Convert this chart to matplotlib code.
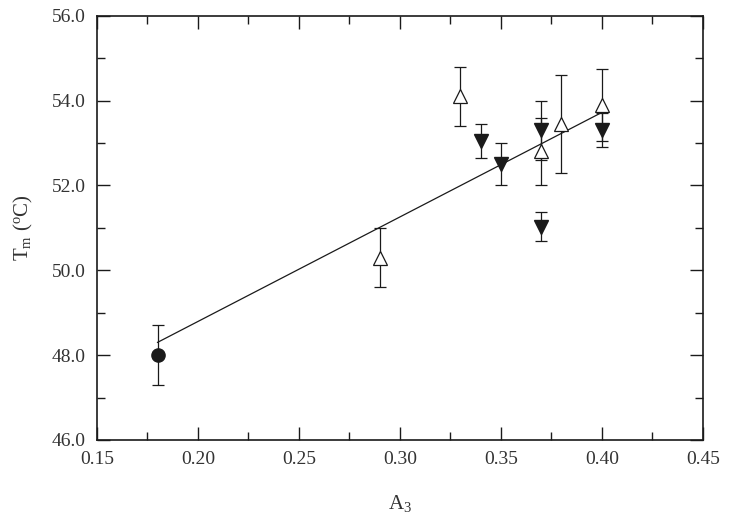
import numpy as np
import matplotlib
matplotlib.use("Agg")
import matplotlib.pyplot as plt
from matplotlib.ticker import MultipleLocator, FormatStrFormatter

plt.rcParams['font.family'] = ['Liberation Serif', 'DejaVu Serif']
plt.rcParams['mathtext.fontset'] = 'custom'
plt.rcParams['mathtext.rm'] = 'Liberation Serif'
plt.rcParams['mathtext.it'] = 'Liberation Serif:italic'

# filled circle
circ_x = [0.18]
circ_y = [48.0]
circ_err = [0.7]

# open up-triangles
up_x = [0.29, 0.33, 0.37, 0.38, 0.40]
up_y = [50.3, 54.1, 52.8, 53.45, 53.9]
up_err = [0.7, 0.7, 0.8, 1.15, 0.85]

# filled down-triangles
dn_x = [0.34, 0.35, 0.37, 0.37, 0.40]
dn_y = [53.05, 52.5, 53.3, 51.03, 53.3]
dn_err = [0.4, 0.5, 0.7, 0.35, 0.4]

# fitted line endpoints
fit_x = [0.18, 0.40]
fit_y = [48.3, 53.72]

ink = '#1a1a1a'
txt = '#333333'

fig = plt.figure(figsize=(7.29, 5.25), dpi=100)
ax = fig.add_axes([0.133, 0.162, 0.831, 0.808])

ax.plot(fit_x, fit_y, color=ink, lw=0.9, zorder=2)

eb = dict(fmt='none', ecolor=ink, elinewidth=0.9, capsize=4.5, capthick=0.9, zorder=3)
ax.errorbar(circ_x, circ_y, yerr=circ_err, **eb)
ax.errorbar(up_x, up_y, yerr=up_err, **eb)
ax.errorbar(dn_x, dn_y, yerr=dn_err, **eb)

ax.plot(circ_x, circ_y, 'o', ms=9.5, mfc=ink, mec=ink, zorder=4)
ax.plot(up_x, up_y, '^', ms=9.5, mfc='white', mec=ink, mew=0.9, zorder=4)
ax.plot(dn_x, dn_y, 'v', ms=9.5, mfc=ink, mec=ink, zorder=4)

ax.set_xlim(0.15, 0.45)
ax.set_ylim(46.0, 56.0)
ax.xaxis.set_major_locator(MultipleLocator(0.05))
ax.xaxis.set_minor_locator(MultipleLocator(0.025))
ax.yaxis.set_major_locator(MultipleLocator(2.0))
ax.yaxis.set_minor_locator(MultipleLocator(1.0))
ax.xaxis.set_major_formatter(FormatStrFormatter('%.2f'))
ax.yaxis.set_major_formatter(FormatStrFormatter('%.1f'))

ax.tick_params(which='both', direction='in', top=True, right=True,
               width=1.0, colors=ink, labelcolor=txt, labelsize=14)
ax.tick_params(which='major', length=9.5, pad=8)
ax.tick_params(which='minor', length=5.5)
for s in ax.spines.values():
    s.set_linewidth(1.2)
    s.set_color(ink)

ax.set_xlabel(r'A$_3$', fontsize=15, color=txt, labelpad=18)
ax.set_ylabel(r'T$_{\mathrm{m}}$ ($^{\mathrm{o}}$C)', fontsize=15, color=txt, labelpad=12)

fig.savefig('out.png', dpi=100)
